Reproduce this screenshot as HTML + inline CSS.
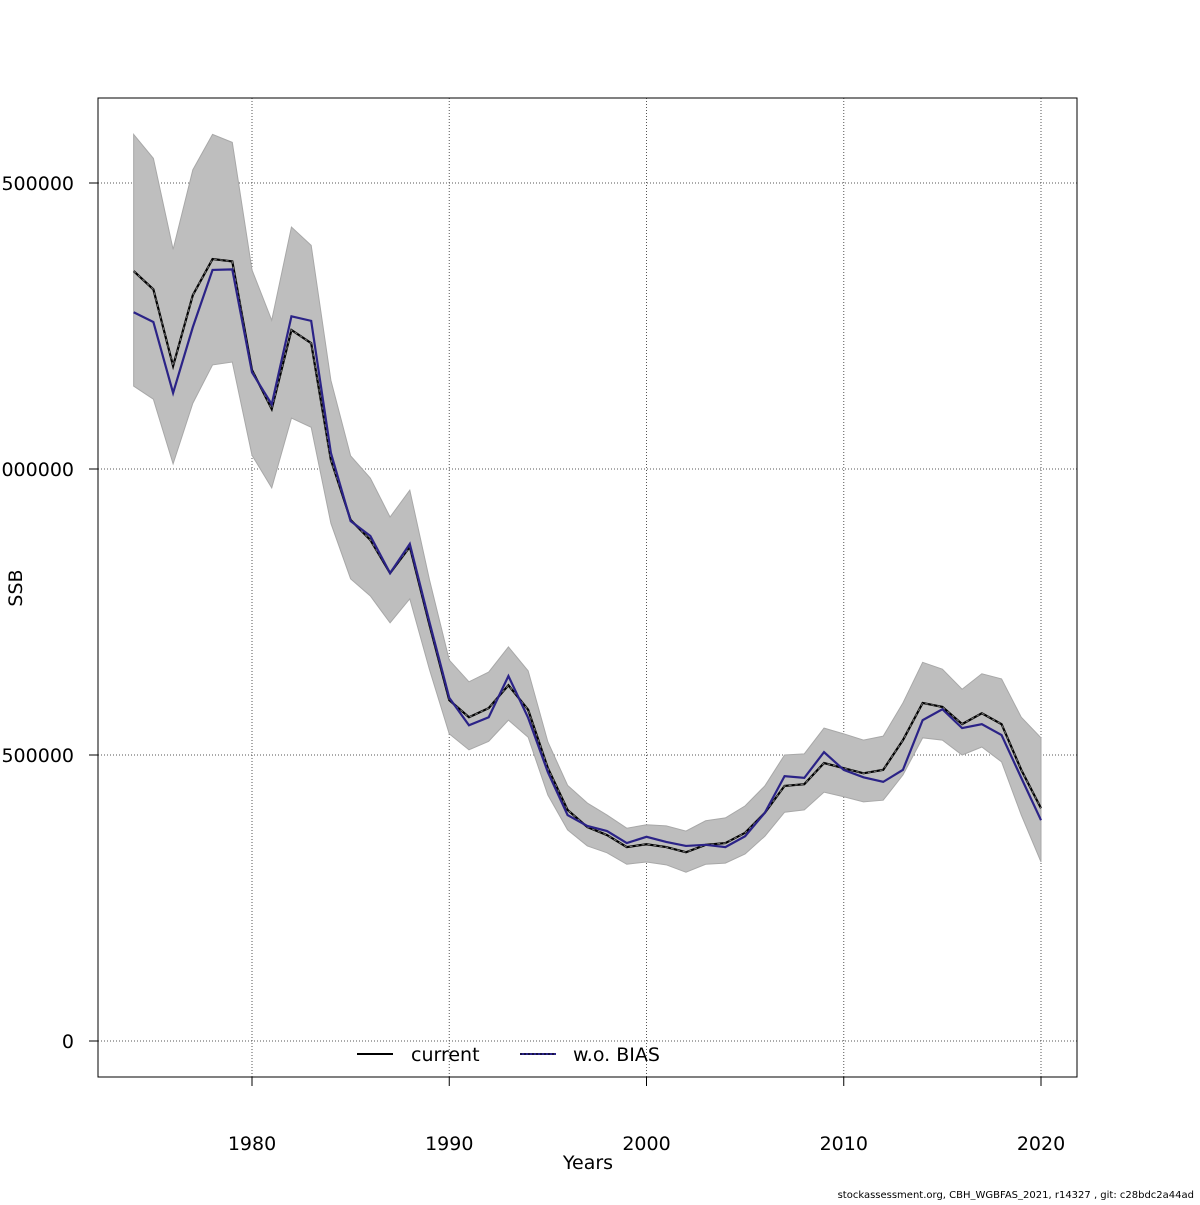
<!DOCTYPE html>
<html><head><meta charset="utf-8"><style>
body{margin:0;background:#fff}
svg text{font-family:"DejaVu Sans","Liberation Sans",sans-serif}
</style></head><body>
<svg id="chart" width="1200" height="1200" xmlns="http://www.w3.org/2000/svg">
<rect width="1200" height="1200" fill="#fff"/>
<g id="grid"></g>
<g id="band"></g>
<g id="lines"></g>
<rect x="98" y="98" width="979" height="979" fill="none" stroke="#000" stroke-width="1"/>
<g id="ticks"></g>
<text x="588" y="1169" font-size="19" text-anchor="middle">Years</text>
<text transform="translate(22,588) rotate(-90)" font-size="19" text-anchor="middle">SSB</text>
<g>
<g>
<line x1="357" y1="1054" x2="393" y2="1054" stroke="#000" stroke-width="2"/>
<text x="411" y="1061" font-size="19">current</text></g>
<g>
<line x1="520" y1="1054" x2="556" y2="1054" stroke="#2b2387" stroke-width="2"/>
<line x1="520" y1="1054" x2="556" y2="1054" stroke="#000" stroke-width="1" stroke-dasharray="2,2"/>
<text x="573" y="1061" font-size="19">w.o. BIAS</text></g>
</g>
<text x="1194" y="1198" font-size="10" text-anchor="end">stockassessment.org, CBH_WGBFAS_2021, r14327 , git: c28bdc2a44ad</text>
</svg>
<script>
const years=[];for(let y=1974;y<=2020;y++)years.push(y);
const current=[1346,1314,1180,1304,1367,1363,1173,1105,1243,1220,1016,911,876,818,864,727,596,566,582,622,579,477,404,374,360,339,344,339,330,343,346,364,399,446,449,486,477,468,474,526,591,584,554,573,554,474,407];
const woBias=[1274,1257,1133,1248,1348,1349,1169,1113,1267,1259,1028,909,883,818,869,732,600,552,566,638,565,470,395,376,367,346,357,348,341,343,339,358,399,463,460,505,474,461,453,474,561,580,547,554,535,460,386];
const upper=[1585,1543,1384,1523,1585,1571,1348,1260,1423,1391,1155,1023,984,916,963,806,666,628,645,689,647,523,447,416,395,372,378,376,367,385,390,411,446,500,502,547,537,526,533,591,662,650,615,642,633,566,530];
const lower=[1145,1122,1009,1115,1182,1187,1024,967,1089,1073,905,808,778,731,773,649,537,509,524,561,531,430,369,341,329,309,313,308,295,309,311,327,358,400,404,435,427,418,421,465,530,526,500,514,488,395,313];
const xTicks=[1980,1990,2000,2010,2020];
const yTicks=[0,500,1000,1500];
const yTickLabels=["0","500000","1000000","1500000"];
const X=y=>252+(y-1980)*19.725;
const Y=v=>1041-v*286/500;
const NS="http://www.w3.org/2000/svg";
function mk(t,a,p){const e=document.createElementNS(NS,t);for(const k in a)e.setAttribute(k,a[k]);p.appendChild(e);return e;}
const grid=document.getElementById('grid'),ticks=document.getElementById('ticks');
xTicks.forEach(t=>{
 const l=mk('line',{x1:X(t),x2:X(t),y1:98,y2:1077,stroke:'#555','stroke-width':1,'stroke-dasharray':'1,2'},grid);
 
 
 const tk=mk('line',{x1:X(t),x2:X(t),y1:1077,y2:1086,stroke:'#000'},ticks);
 
 
 const tx=mk('text',{x:X(t),y:1150,'font-size':19,'text-anchor':'middle'},ticks);tx.textContent=t;
 
 
});
yTicks.forEach((t,i)=>{
 const l=mk('line',{x1:98,x2:1077,y1:Y(t),y2:Y(t),stroke:'#555','stroke-width':1,'stroke-dasharray':'1,2'},grid);
 
 
 const tk=mk('line',{x1:89,x2:98,y1:Y(t),y2:Y(t),stroke:'#000'},ticks);
 
 
 const tx=mk('text',{x:74,y:Y(t)+7,'font-size':19,'text-anchor':'end'},ticks);tx.textContent=yTickLabels[i];
 
 
});
let d=years.map((y,i)=>(i?'L':'M')+X(y)+','+Y(upper[i])).join('');
for(let i=years.length-1;i>=0;i--)d+='L'+X(years[i])+','+Y(lower[i]);
const b=mk('path',{d:d+'Z',fill:'#bebebe',stroke:'#a8a8a8','stroke-width':1},document.getElementById('band'));


const L=document.getElementById('lines');
const pc=mk('path',{d:years.map((y,i)=>(i?'L':'M')+X(y)+','+Y(current[i])).join(''),fill:'none',stroke:'#000','stroke-width':2.2},L);


const pcd=mk('path',{d:years.map((y,i)=>(i?'L':'M')+X(y)+','+Y(current[i])).join(''),fill:'none',stroke:'#777','stroke-width':1,'stroke-dasharray':'3,3'},L);


const pb=mk('path',{d:years.map((y,i)=>(i?'L':'M')+X(y)+','+Y(woBias[i])).join(''),fill:'none',stroke:'#2b2387','stroke-width':2.2},L);


</script>
</body></html>
